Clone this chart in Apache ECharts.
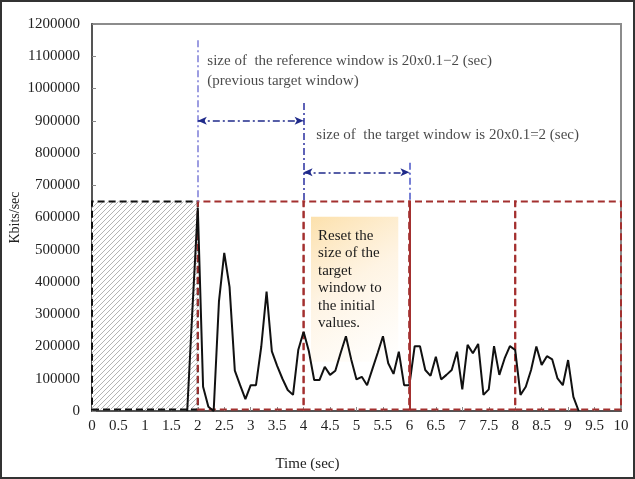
<!DOCTYPE html>
<html>
<head>
<meta charset="utf-8">
<script src="https://cdn.jsdelivr.net/npm/echarts@6/dist/echarts.min.js"></script>
<style>
html,body{margin:0;padding:0;background:#fff;}
#c{width:635px;height:479px;}
</style>
</head>
<body>
<div id="c"></div>
<script>
// ---- data ----
const times = [1.8,1.9,2.0,2.1,2.2,2.3,2.4,2.5,2.6,2.7,2.8,2.9,3.0,3.1,3.2,3.3,3.4,3.5,3.6,3.7,3.8,3.9,
  4.0,4.1,4.2,4.3,4.4,4.5,4.6,4.7,4.8,4.9,5.0,5.1,5.2,5.3,5.4,5.5,5.6,5.7,5.8,5.9,
  6.0,6.1,6.2,6.3,6.4,6.5,6.6,6.7,6.8,6.9,7.0,7.1,7.2,7.3,7.4,7.5,7.6,7.7,7.8,7.9,
  8.0,8.1,8.2,8.3,8.4,8.5,8.6,8.7,8.8,8.9,9.0,9.1,9.2];
const kbits = [0,320000,630000,75000,13000,0,340000,490000,385000,125000,80000,37000,80000,80000,200000,370000,185000,140000,100000,65000,50000,190000,
  246000,185000,96000,96000,137000,112000,125000,180000,232000,160000,98000,106000,80000,130000,180000,232000,148000,115000,184000,80000,
  80000,201000,201000,127000,109000,168000,98000,112000,127000,184000,67000,205000,179000,208000,50000,67000,201000,112000,163000,201000,
  189000,50000,75000,127000,200000,143000,170000,160000,101000,80000,158000,44000,0];

const refWindow = [0, 2];            // hatched initial block
const windowEdges = [2, 4, 6, 8, 10]; // target windows
const windowTop = 650000;
const windowBottom = 5000;
const resetEdge = 6;                  // solid boundary
const arrow1 = {from: 2, to: 4, y: 900000};
const arrow2 = {from: 4, to: 6, y: 740000};
const guideLines = [
  {x: 2, top: 1150000, color: '#7d7dd8'},
  {x: 4, top: 955000, color: '#2a2fa0'},
  {x: 6, top: 770000, color: '#4a55c8'}
];
const resetBox = {x0: 4.14, x1: 5.79, y0: 153000, y1: 602000,
  text: 'Reset the\nsize of the\ntarget\nwindow to\nthe initial\nvalues.'};
const notes = [
  {x: 2.18, y: 1085000, text: 'size of  the reference window is 20x0.1\u22122 (sec)'},
  {x: 2.18, y: 1022000, text: '(previous target window)'},
  {x: 4.24, y: 856000, text: 'size of  the target window is 20x0.1=2 (sec)'}
];

// ---- hatch pattern ----
const pc = document.createElement('canvas');
pc.width = 5; pc.height = 5;
const g = pc.getContext('2d');
g.fillStyle = '#ffffff'; g.fillRect(0,0,5,5);
g.strokeStyle = '#b4b4b4'; g.lineWidth = 1;
g.beginPath();
g.moveTo(-1,6); g.lineTo(6,-1);
g.moveTo(-1,1); g.lineTo(1,-1);
g.moveTo(4,6); g.lineTo(6,4);
g.stroke();

const FONT = '"Liberation Serif", "Times New Roman", serif';
const red = '#a3302f';
const redDash = [7, 4];
const dashDot = [7, 3, 2, 3];

const areas = [];
areas.push([
  {xAxis: refWindow[0], yAxis: windowBottom,
   itemStyle: {color: {image: pc, repeat: 'repeat'}, borderColor: '#111', borderWidth: 2, borderType: redDash}},
  {xAxis: refWindow[1], yAxis: windowTop}
]);
for (let i = 0; i < windowEdges.length - 1; i++) {
  areas.push([
    {xAxis: windowEdges[i], yAxis: windowBottom,
     itemStyle: {color: 'rgba(0,0,0,0)', borderColor: red, borderWidth: 2, borderType: redDash}},
    {xAxis: windowEdges[i+1], yAxis: windowTop}
  ]);
}

const mlines = [];
mlines.push([
  {coord: [resetEdge, windowBottom], symbol: 'none', lineStyle: {color: red, width: 2, type: 'solid'}},
  {coord: [resetEdge, windowTop], symbol: 'none'}
]);
guideLines.forEach(gl => {
  mlines.push([
    {coord: [gl.x, gl.top], symbol: 'none', lineStyle: {color: gl.color, width: 1.5, type: dashDot}},
    {coord: [gl.x, windowTop], symbol: 'none'}
  ]);
});
[arrow1, arrow2].forEach(a => {
  mlines.push([
    {coord: [a.from, a.y], symbol: 'arrow', symbolSize: [6, 9], lineStyle: {color: '#1f2a8a', width: 1.5, type: dashDot}},
    {coord: [a.to, a.y], symbol: 'arrow', symbolSize: [6, 9]}
  ]);
});

const chart = echarts.init(document.getElementById('c'), null, {renderer: 'canvas'});
chart.setOption({
  animation: false,
  backgroundColor: '#fff',
  graphic: [{
    type: 'rect', silent: true, z: 100,
    shape: {x: 1, y: 1, width: 633, height: 477},
    style: {fill: 'none', stroke: '#333', lineWidth: 2}
  }],
  grid: {left: 92, right: 14, top: 24, bottom: 68, show: true, borderColor: '#8c8c8c', borderWidth: 2,
    backgroundColor: 'transparent', containLabel: false, outerBoundsMode: 'none'},
  xAxis: {
    type: 'value', min: 0, max: 10, interval: 0.5,
    name: 'Time (sec)', nameLocation: 'middle', nameGap: 46, nameMoveOverlap: false,
    nameTextStyle: {fontFamily: FONT, fontSize: 15, color: '#222', padding: [0, 98, 0, 0]},
    axisLine: {lineStyle: {color: '#555', width: 2}},
    axisTick: {inside: true, length: 4, lineStyle: {color: '#888'}},
    axisLabel: {fontFamily: FONT, fontSize: 15, color: '#222', margin: 8, formatter: v => String(v)},
    splitLine: {show: false}
  },
  yAxis: {
    type: 'value', min: 0, max: 1200000, interval: 100000,
    name: 'Kbits/sec', nameLocation: 'middle', nameGap: 70, nameMoveOverlap: false,
    nameTextStyle: {fontFamily: FONT, fontSize: 14, color: '#222'},
    axisLine: {lineStyle: {color: '#555', width: 2}},
    axisTick: {inside: true, length: 4, lineStyle: {color: '#888'}},
    axisLabel: {fontFamily: FONT, fontSize: 15, color: '#222', margin: 12, formatter: v => String(v)},
    splitLine: {show: false}
  },
  series: [
    {
      type: 'line', name: 'windows', data: [], z: 2, silent: true,
      markArea: {silent: true, data: areas, label: {show: false}}
    },
    {
      type: 'line', name: 'traffic', z: 3, silent: true,
      data: times.map((t, i) => [t, kbits[i]]),
      showSymbol: false, symbol: 'none',
      lineStyle: {color: '#111', width: 2},
      markLine: {silent: true, symbol: 'none', label: {show: false}, data: mlines}
    },
    {
      type: 'line', name: 'box', data: [], z: 6, silent: true,
      markArea: {
        silent: true,
        data: [[
          {xAxis: resetBox.x0, yAxis: resetBox.y1,
           itemStyle: {
             color: {type: 'linear', x: 0, y: 0, x2: 1, y2: 1, colorStops: [
               {offset: 0, color: 'rgba(252,222,165,0.92)'},
               {offset: 0.45, color: 'rgba(254,240,218,0.75)'},
               {offset: 1, color: 'rgba(255,255,255,0.6)'}
             ]},
             borderWidth: 0
           },
           label: {show: true, position: 'insideTopLeft', formatter: resetBox.text,
             fontFamily: FONT, fontSize: 15, lineHeight: 17.5, color: '#1a1a1a', padding: [5, 0, 0, 2]}
          },
          {xAxis: resetBox.x1, yAxis: resetBox.y0}
        ]]
      }
    },
    {
      type: 'scatter', name: 'notes', z: 7, silent: true,
      symbolSize: 0,
      data: notes.map(n => ({value: [n.x, n.y], label: {formatter: n.text}})),
      label: {show: true, position: 'right', distance: 0, fontFamily: FONT, fontSize: 15, color: '#1a1a1a'}
    }
  ]
});
</script>
</body>
</html>
